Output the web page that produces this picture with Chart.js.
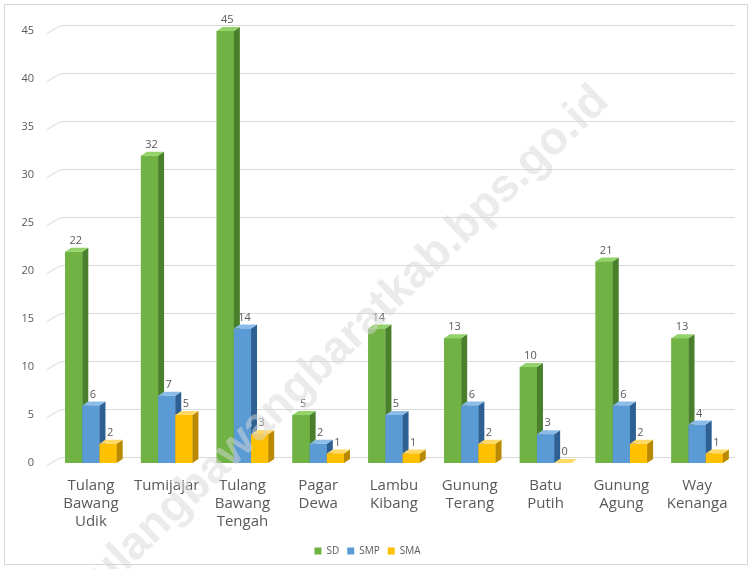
<!DOCTYPE html>
<html>
<head>
<meta charset="utf-8">
<script src="https://cdn.jsdelivr.net/npm/chart.js@4.4.1/dist/chart.umd.min.js"></script>
<style>
  body { margin: 0; background: #fff; }
  canvas { display: block; }
</style>
</head>
<body>
<canvas id="chart" width="752" height="569"></canvas>
<script>
/*
DATA
*/
const categories = [
  ['Tulang', 'Bawang', 'Udik'],
  ['Tumijajar'],
  ['Tulang', 'Bawang', 'Tengah'],
  ['Pagar', 'Dewa'],
  ['Lambu', 'Kibang'],
  ['Gunung', 'Terang'],
  ['Batu', 'Putih'],
  ['Gunung', 'Agung'],
  ['Way', 'Kenanga']
];
const seriesNames = ['SD', 'SMP', 'SMA'];
const sdValues = [22, 32, 45, 5, 14, 13, 10, 21, 13];
const smpValues = [6, 7, 14, 2, 5, 6, 3, 6, 4];
const smaValues = [2, 5, 3, 1, 1, 2, 0, 2, 1];
const yMax = 45;
const yStep = 5;

// front / side / top colours for each series
const frontColors = ['#70b244', '#5b9bd5', '#ffc000'];
const sideColors = ['#4a7f2b', '#2f6094', '#b98a00'];
const topColors = ['#94d26a', '#8cbde9', '#ffd966'];

const DEPTH_X = 6;
const DEPTH_Y = 4;
const GRAY = '#595959';

//frame, back wall grid lines
const backgroundPlugin = {
  id: 'background3d',
  beforeDraw(chart) {
    const ctx = chart.ctx;
    ctx.save();
    ctx.fillStyle = '#fff';
    ctx.fillRect(0, 0, chart.width, chart.height);
    ctx.strokeStyle = '#d6d6d6';
    ctx.lineWidth = 1;
    ctx.strokeRect(4.5, 4.5, chart.width - 9, chart.height - 9);
    ctx.restore();
  },
  beforeDatasetsDraw(chart) {
    const ctx = chart.ctx;
    const area = chart.chartArea;
    const y = chart.scales.y;
    ctx.save();
    ctx.strokeStyle = '#d9d9d9';
    ctx.lineWidth = 1;
    for (let tick of y.ticks) {
      let py = Math.round(y.getPixelForValue(tick.value)) + 0.5;
      ctx.beginPath();
      ctx.moveTo(area.left - 6, py + 2);
      ctx.lineTo(area.left + 8, py - 6);
      ctx.lineTo(area.right, py - 6);
      ctx.stroke();
    }
    ctx.restore();
  }
};

//draws bars as boxes, in series order so the next bar hides the side face
const barsPlugin = {
  id: 'bars3d',
  afterDatasetsDraw(chart) {
    const ctx = chart.ctx;
    ctx.save();
    chart.data.datasets.forEach((ds, i) => {
      const meta = chart.getDatasetMeta(i);
      meta.data.forEach((bar) => {
        let left = bar.x - bar.width / 2;
        let right = bar.x + bar.width / 2;
        let top = bar.y;
        let base = bar.base;
        // front
        ctx.fillStyle = frontColors[i];
        ctx.fillRect(left, top, right - left, base - top);
        // side
        ctx.fillStyle = sideColors[i];
        ctx.beginPath();
        ctx.moveTo(right, top);
        ctx.lineTo(right + DEPTH_X, top - DEPTH_Y);
        ctx.lineTo(right + DEPTH_X, base - DEPTH_Y);
        ctx.lineTo(right, base);
        ctx.closePath();
        ctx.fill();
        // top
        ctx.fillStyle = topColors[i];
        ctx.beginPath();
        ctx.moveTo(left, top);
        ctx.lineTo(left + DEPTH_X, top - DEPTH_Y);
        ctx.lineTo(right + DEPTH_X, top - DEPTH_Y);
        ctx.lineTo(right, top);
        ctx.closePath();
        ctx.fill();
      });
    });
    // value labels
    ctx.fillStyle = GRAY;
    ctx.font = '11px "Open Sans"';
    ctx.textAlign = 'center';
    ctx.textBaseline = 'middle';
    chart.data.datasets.forEach((ds, i) => {
      const meta = chart.getDatasetMeta(i);
      meta.data.forEach((bar, j) => {
        ctx.fillText(ds.data[j], bar.x + 2, bar.y - 11);
      });
    });
    ctx.restore();
  },
  afterDraw(chart) {
    // watermark
    const ctx = chart.ctx;
    ctx.save();
    ctx.translate(602, 94);
    ctx.rotate(-44 * Math.PI / 180);
    ctx.font = 'bold 46px "Liberation Sans"';
    ctx.fillStyle = 'rgba(215, 215, 215, 0.5)';
    ctx.textAlign = 'right';
    ctx.textBaseline = 'middle';
    ctx.fillText('tulangbawangbaratkab.bps.go.id', 0, 0);
    ctx.restore();
  }
};

let canvasChart = document.getElementById('chart');

let data = {
  labels: categories,
  datasets: [
    { label: seriesNames[0], data: sdValues, backgroundColor: frontColors[0] },
    { label: seriesNames[1], data: smpValues, backgroundColor: frontColors[1] },
    { label: seriesNames[2], data: smaValues, backgroundColor: frontColors[2] }
  ]
};

let options = {
  responsive: false,
  animation: false,
  layout: {
    padding: { top: 31, right: 17, bottom: 3, left: 0 }
  },
  datasets: {
    bar: {
      categoryPercentage: 0.68,
      barPercentage: 1.0
    }
  },
  scales: {
    x: {
      grid: { display: false, drawTicks: false },
      border: { display: false },
      ticks: {
        color: GRAY,
        font: { family: '"Open Sans"', size: 15 },
        padding: 14,
        maxRotation: 0,
        autoSkip: false
      },
      afterFit: (scale) => { scale.height = 75; }
    },
    y: {
      min: 0,
      max: yMax,
      grid: { display: false, drawTicks: false },
      border: { display: false },
      ticks: {
        stepSize: yStep,
        color: GRAY,
        font: { family: '"Open Sans"', size: 11 },
        padding: 19
      },
      afterFit: (scale) => { scale.width = 53; }
    }
  },
  plugins: {
    legend: {
      position: 'bottom',
      labels: {
        boxWidth: 7,
        boxHeight: 7,
        padding: 8,
        color: GRAY,
        font: { family: '"Open Sans"', size: 10 }
      }
    },
    tooltip: { enabled: false }
  }
};

let chart = new Chart(canvasChart, {
  type: 'bar',
  data: data,
  options: options,
  plugins: [backgroundPlugin, barsPlugin]
});
</script>
</body>
</html>
